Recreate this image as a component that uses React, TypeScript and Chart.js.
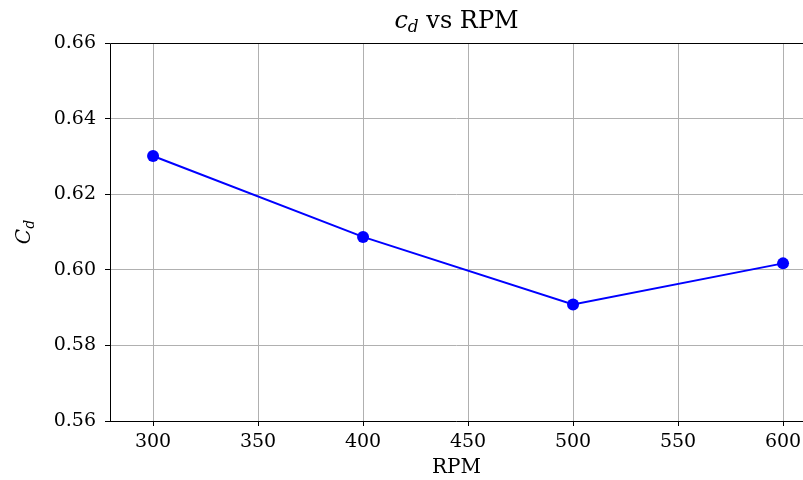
import React, { useEffect, useRef } from "react";
import { Chart, registerables } from "chart.js";

Chart.register(...registerables);

const rpm = [300, 400, 500, 600];
const cd = [0.6301, 0.6087, 0.5908, 0.6017];
const xTicks = [300, 350, 400, 450, 500, 550, 600];
const yTicks = [0.56, 0.58, 0.6, 0.62, 0.64, 0.66];
const FONT = "'DejaVu Serif', serif";

const decorations = {
  id: "decorations",
  afterDraw(chart: any) {
    const { ctx, chartArea } = chart;
    const { left, right, top, bottom } = chartArea;
    ctx.save();
    // frame
    ctx.strokeStyle = "#000";
    ctx.lineWidth = 1;
    ctx.beginPath();
    ctx.moveTo(left + 0.5, bottom + 0.5);
    ctx.lineTo(left + 0.5, top + 0.5);
    ctx.lineTo(right + 0.5, top + 0.5);
    ctx.moveTo(left, bottom + 0.5);
    ctx.lineTo(right, bottom + 0.5);
    ctx.stroke();
    ctx.fillStyle = "#000";
    // title: c_d vs RPM
    const cx = (left + right) / 2;
    const ty = 28;
    ctx.textBaseline = "alphabetic";
    ctx.font = `italic 24px ${FONT}`;
    const wc = ctx.measureText("c").width;
    ctx.font = `italic 17px ${FONT}`;
    const wd = ctx.measureText("d").width;
    ctx.font = `24px ${FONT}`;
    const wr = ctx.measureText(" vs RPM").width;
    let x = cx - (wc + wd + wr) / 2;
    ctx.textAlign = "left";
    ctx.font = `italic 24px ${FONT}`;
    ctx.fillText("c", x, ty);
    x += wc;
    ctx.font = `italic 17px ${FONT}`;
    ctx.fillText("d", x, ty + 4);
    x += wd;
    ctx.font = `24px ${FONT}`;
    ctx.fillText(" vs RPM", x, ty);
    // y label C_d
    ctx.translate(30, (top + bottom) / 2);
    ctx.rotate(-Math.PI / 2);
    ctx.font = `italic 20px ${FONT}`;
    const wC = ctx.measureText("C").width;
    ctx.font = `italic 14px ${FONT}`;
    const wd2 = ctx.measureText("d").width;
    let yx = -(wC + wd2) / 2;
    ctx.font = `italic 20px ${FONT}`;
    ctx.fillText("C", yx, 0);
    yx += wC;
    ctx.font = `italic 14px ${FONT}`;
    ctx.fillText("d", yx, 4);
    ctx.restore();
  },
};

export default function App() {
  const ref = useRef<HTMLCanvasElement>(null);
  useEffect(() => {
    const chart = new Chart(ref.current!, {
      type: "line",
      data: {
        datasets: [
          {
            data: rpm.map((r, i) => ({ x: r, y: cd[i] })),
            borderColor: "#0000ff",
            backgroundColor: "#0000ff",
            borderWidth: 2,
            pointRadius: 6,
            pointBorderWidth: 0,
            pointBackgroundColor: "#0000ff",
            tension: 0,
            clip: false,
          },
        ],
      },
      plugins: [decorations],
      options: {
        responsive: false,
        animation: false,
        layout: { autoPadding: false, padding: { top: 43, right: 0, left: 0, bottom: 0 } },
        plugins: { legend: { display: false }, title: { display: false }, tooltip: { enabled: false } },
        scales: {
          x: {
            type: "linear",
            min: 279.5,
            max: 609.5,
            afterBuildTicks: (s: any) => {
              s.ticks = xTicks.map((v) => ({ value: v }));
            },
            afterFit: (s: any) => {
              s.height = 59;
              s.paddingRight = 0;
              s.paddingLeft = 0;
            },
            grid: { color: "#b0b0b0", lineWidth: 1, tickLength: 5, tickColor: "#000", drawTicks: true },
            border: { display: false },
            ticks: {
              font: { family: FONT, size: 19 },
              color: "#000",
              padding: 5,
              maxRotation: 0,
              autoSkip: false,
              callback: (v: any) => String(v),
            },
            title: { display: true, text: "RPM", font: { family: FONT, size: 20 }, color: "#000", padding: 0 },
          },
          y: {
            min: 0.56,
            max: 0.66,
            afterBuildTicks: (s: any) => {
              s.ticks = yTicks.map((v) => ({ value: v }));
            },
            afterFit: (s: any) => {
              s.width = 110;
              s.paddingTop = 0;
              s.paddingBottom = 0;
            },
            grid: { color: "#b0b0b0", lineWidth: 1, tickLength: 5, tickColor: "#000", drawTicks: true },
            border: { display: false },
            ticks: {
              font: { family: FONT, size: 19 },
              color: "#000",
              padding: 9,
              autoSkip: false,
              callback: (v: any) => Number(v).toFixed(2),
            },
          },
        },
      },
    });
    return () => chart.destroy();
  }, []);
  return (
    <div style={{ position: "fixed", left: 0, top: 0, width: 803, height: 480, background: "#fff" }}>
      <canvas ref={ref} width={803} height={480} style={{ width: 803, height: 480 }} />
    </div>
  );
}
